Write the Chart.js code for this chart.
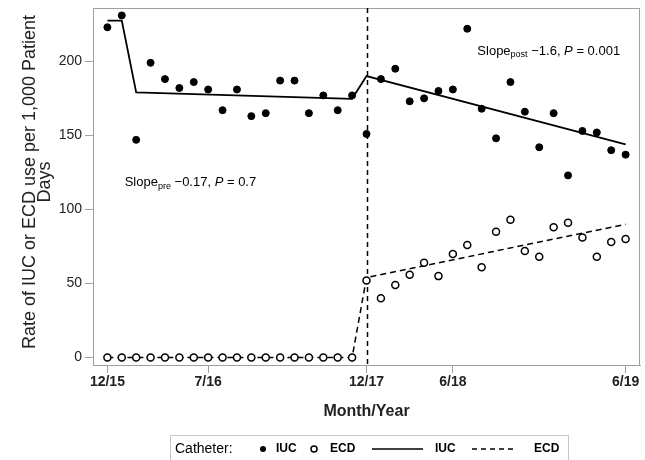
<!DOCTYPE html>
<html>
<head>
<meta charset="utf-8">
<script src="https://cdn.jsdelivr.net/npm/chart.js@4.4.0/dist/chart.umd.min.js"></script>
<style>
  body { margin: 0; background: #fff; }
  #wrap { width: 645px; height: 460px; }
</style>
</head>
<body>
<div id="wrap"><canvas id="rateChart" width="645" height="460"></canvas></div>
<script>
// x positions are month indexes, ticks only at a few of them
var tickIdx = [0, 7, 18, 24, 36];
var tickLabels = ['12/15', '7/16', '12/17', '6/18', '6/19'];
var yTicks = [0, 50, 100, 150, 200];

// observed monthly rates
var iucRate = [223, 231, 147, 199, 188, 182, 186, 181, 167, 181, 163, 165, 187, 187, 165, 177, 167, 177, 151,
               188, 195, 173, 175, 180, 181, 222, 168, 148, 186, 166, 142, 165, 123, 153, 152, 140, 137];
var ecdRate = [0, 0, 0, 0, 0, 0, 0, 0, 0, 0, 0, 0, 0, 0, 0, 0, 0, 0,
               52, 40, 49, 56, 64, 55, 70, 76, 61, 85, 93, 72, 68, 88, 91, 81, 68, 78, 80];

// fitted segmented regression lines (vertices only)
var iucFitX = [0, 1, 2, 17, 18, 36];
var iucFitY = [227.5, 227.5, 179, 174.7, 190, 144];
var ecdFitX = [0, 17, 18, 36];
var ecdFitY = [0, 0, 54, 90];

var interventionIdx = 18;

function toPoints(xs, ys) {
    var out = [];
    for (var i = 0; i < ys.length; i++) {
        out.push({ x: xs ? xs[i] : i, y: ys[i] });
    }
    return out;
}

var fontFam = '"Liberation Sans", Arial, sans-serif';

// frame, intervention line, y title, slope notes and the legend box
var extras = {
    id: 'extras',
    beforeDatasetsDraw: function (chart) {
        var ctx = chart.ctx, a = chart.chartArea;
        var xs = chart.scales.x;
        ctx.save();
        ctx.strokeStyle = '#a0a0a0';
        ctx.lineWidth = 1;
        ctx.strokeRect(a.left + 0.5, a.top + 0.5, a.right - a.left - 1, a.bottom - a.top);
        var vx = Math.round(xs.getPixelForValue(interventionIdx)) + 0.5;
        ctx.strokeStyle = '#000';
        ctx.lineWidth = 1.5;
        ctx.setLineDash([5, 4]);
        ctx.beginPath();
        ctx.moveTo(vx, a.top);
        ctx.lineTo(vx, a.bottom);
        ctx.stroke();
        ctx.restore();
    },
    afterDraw: function (chart) {
        var ctx = chart.ctx;
        var xs = chart.scales.x, ys = chart.scales.y;
        ctx.save();
        ctx.fillStyle = '#222';
        ctx.textBaseline = 'middle';

        // y axis title, two lines
        ctx.save();
        ctx.translate(0, 182);
        ctx.rotate(-Math.PI / 2);
        ctx.textAlign = 'center';
        ctx.font = '18px ' + fontFam;
        ctx.fillText('Rate of IUC or ECD use per 1,000 Patient', 0, 30);
        ctx.fillText('Days', 0, 45);
        ctx.restore();

        ctx.fillStyle = '#000';
        function slopeNote(px, py, sub, val, p) {
            ctx.font = '13px ' + fontFam;
            ctx.fillText('Slope', px, py);
            px += ctx.measureText('Slope').width;
            ctx.font = '9px ' + fontFam;
            ctx.fillText(sub, px, py + 4);
            px += ctx.measureText(sub).width;
            ctx.font = '13px ' + fontFam;
            var t = ' ' + val + ', ';
            ctx.fillText(t, px, py);
            px += ctx.measureText(t).width;
            ctx.font = 'italic 13px ' + fontFam;
            ctx.fillText('P', px, py);
            px += ctx.measureText('P').width;
            ctx.font = '13px ' + fontFam;
            ctx.fillText(' = ' + p, px, py);
        }
        slopeNote(xs.getPixelForValue(1.2), ys.getPixelForValue(118), 'pre', '\u22120.17', '0.7');
        slopeNote(xs.getPixelForValue(25.7), ys.getPixelForValue(207), 'post', '\u22121.6', '0.001');

        // legend
        var ly = 449;
        ctx.strokeStyle = '#c8c8c8';
        ctx.lineWidth = 1;
        ctx.strokeRect(170.5, 435.5, 398, 30);
        ctx.font = '14px ' + fontFam;
        ctx.fillText('Catheter:', 175, ly);
        ctx.font = 'bold 12px ' + fontFam;
        ctx.beginPath();
        ctx.arc(263, ly, 3, 0, Math.PI * 2);
        ctx.fill();
        ctx.fillText('IUC', 276, ly);
        ctx.lineWidth = 1.5;
        ctx.strokeStyle = '#000';
        ctx.beginPath();
        ctx.arc(314, ly, 3, 0, Math.PI * 2);
        ctx.stroke();
        ctx.fillText('ECD', 330, ly);
        ctx.beginPath();
        ctx.moveTo(372, ly);
        ctx.lineTo(423, ly);
        ctx.stroke();
        ctx.fillText('IUC', 435, ly);
        ctx.setLineDash([5, 4]);
        ctx.beginPath();
        ctx.moveTo(472, ly);
        ctx.lineTo(514, ly);
        ctx.stroke();
        ctx.setLineDash([]);
        ctx.fillText('ECD', 534, ly);
        ctx.restore();
    }
};

var ctx = document.getElementById('rateChart');

var rateChart = new Chart(ctx, {
    type: 'scatter',
    data: {
        datasets: [
            {
                label: 'IUC',
                data: toPoints(null, iucRate),
                backgroundColor: '#000',
                borderColor: '#000',
                pointRadius: 3.5,
                pointHoverRadius: 3.5,
                order: 1
            },
            {
                label: 'ECD',
                data: toPoints(null, ecdRate),
                backgroundColor: '#fff',
                borderColor: '#000',
                borderWidth: 1.5,
                pointRadius: 3.5,
                pointHoverRadius: 3.5,
                order: 2
            },
            {
                label: 'IUC fit',
                data: toPoints(iucFitX, iucFitY),
                showLine: true,
                borderColor: '#000',
                borderWidth: 1.8,
                pointRadius: 0,
                order: 3
            },
            {
                label: 'ECD fit',
                data: toPoints(ecdFitX, ecdFitY),
                showLine: true,
                borderColor: '#000',
                borderWidth: 1.5,
                borderDash: [6, 4],
                pointRadius: 0,
                order: 4
            }
        ]
    },
    options: {
        responsive: false,
        animation: false,
        layout: { padding: { top: 8, right: 2, left: 0, bottom: 0 } },
        plugins: {
            legend: { display: false },
            tooltip: { enabled: false }
        },
        scales: {
            x: {
                type: 'linear',
                min: -1,
                max: 37,
                afterBuildTicks: function (scale) {
                    scale.ticks = tickIdx.map(function (v) { return { value: v }; });
                },
                afterFit: function (scale) {
                    scale.height = 95;
                    scale.paddingLeft = 0;
                    scale.paddingRight = 0;
                },
                ticks: {
                    autoSkip: false,
                    maxRotation: 0,
                    padding: 1,
                    color: '#222',
                    font: { family: fontFam, size: 14, weight: 'bold' },
                    callback: function (v) { return tickLabels[tickIdx.indexOf(v)]; }
                },
                grid: { drawOnChartArea: false, tickLength: 8, color: '#a0a0a0' },
                border: { color: '#a0a0a0' },
                title: {
                    display: true,
                    text: 'Month/Year',
                    color: '#222',
                    font: { family: fontFam, size: 16, weight: 'bold' },
                    padding: { top: 4, bottom: 39 }
                }
            },
            y: {
                min: -5,
                max: 236,
                afterBuildTicks: function (scale) {
                    scale.ticks = yTicks.map(function (v) { return { value: v }; });
                },
                afterFit: function (scale) {
                    scale.width = 93;
                    scale.paddingTop = 0;
                    scale.paddingBottom = 0;
                },
                ticks: {
                    padding: 3,
                    color: '#222',
                    font: { family: fontFam, size: 14 }
                },
                grid: { drawOnChartArea: false, tickLength: 8, color: '#a0a0a0' },
                border: { color: '#a0a0a0' },
                title: { display: false }
            }
        }
    },
    plugins: [extras]
});
</script>
</body>
</html>
